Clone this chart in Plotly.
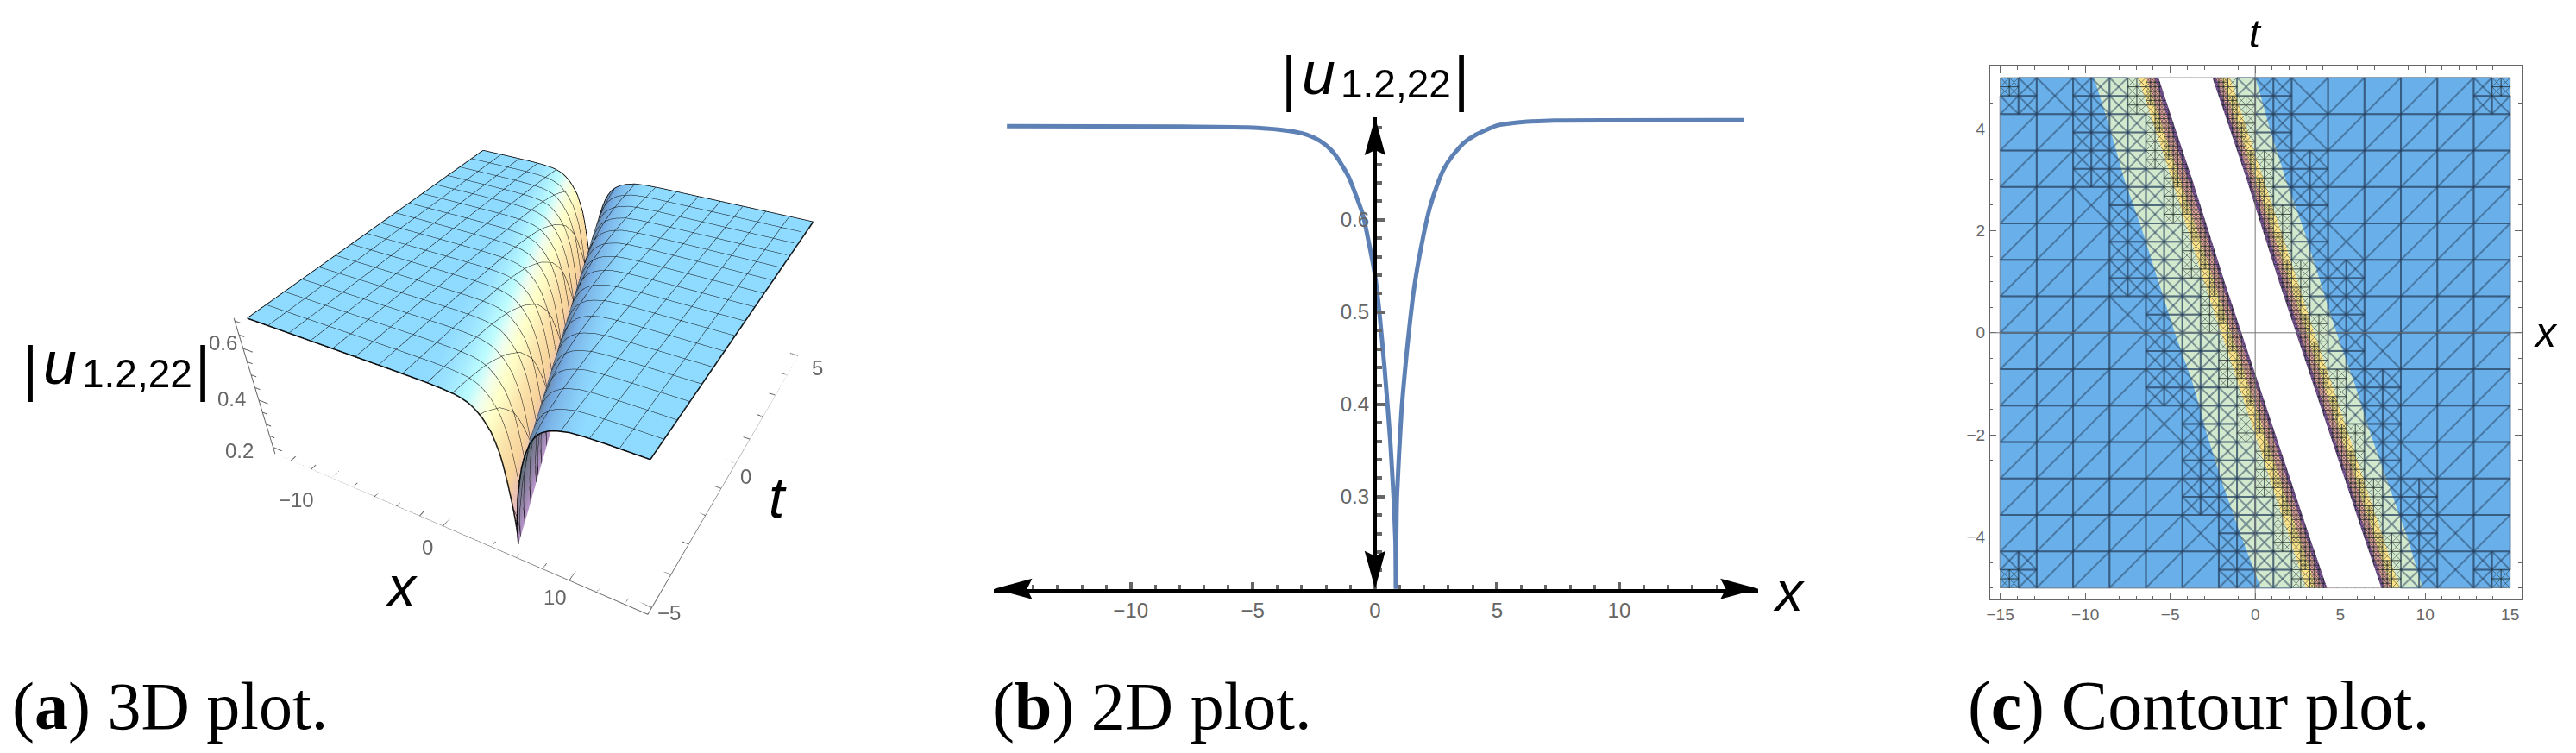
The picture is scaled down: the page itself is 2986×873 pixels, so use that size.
import numpy as np
import plotly.graph_objects as go

W, H = 2986, 873

# panel (b): curve
profile_x = [-15.07, -7.9, -5.2, -3.87, -2.97, -2.5, -2.07, -1.85, -1.62, -1.35, -1.06, -0.8, -0.5, -0.25, 0.0,
             0.18, 0.4, 0.63, 0.76, 0.84, 0.855, 0.87, 0.9, 1.08, 1.34, 1.552, 1.752, 2.0, 2.245, 2.53, 2.82, 3.16,
             3.63, 4.16, 4.98, 5.93, 7.34, 15.1]
profile_u = [0.7015, 0.701, 0.700, 0.6975, 0.6936, 0.689, 0.682, 0.677, 0.670, 0.659, 0.6456, 0.628, 0.606, 0.575, 0.540,
             0.50, 0.437, 0.359, 0.30, 0.25, 0.20, 0.25, 0.30, 0.39, 0.4666, 0.5165, 0.5508, 0.585, 0.613, 0.6364, 0.655, 0.669,
             0.683, 0.6925, 0.702, 0.7056, 0.7075, 0.708]
# colour position along the same curve
profile_shade = [0, 0, 0, 0.05, 0.12, 0.17, 0.21, 0.24, 0.27, 0.31, 0.34, 0.37, 0.40, 0.44, 0.48,
                 0.51, 0.54, 0.6, 0.64, 0.68, 0.72, 0.74, 0.76, 0.78, 0.8, 0.81, 0.82, 0.83, 0.84, 0.86, 0.88, 0.9,
                 0.93, 0.95, 0.98, 1, 1, 1]

# panel (a): position of the trough against t
ridge_t = [-5, -4, -3, -2, -1, 0, 1, 2, 3, 4, 5]
ridge_x = [5.83, 4.85, 3.85, 2.85, 1.85, 0.85, -0.15, -1.15, -2.15, -3.15, -4.1]

# panel (c): band edges, x at each t
edge_t = [5, 4, 3, 2, 1, 0, -1, -2, -3, -4, -5]
left_green = [-9.49, -8.54, -7.7, -6.64, -5.69, -4.73, -3.66, -2.83, -1.88, -0.81, 0.33]
left_yellow = [-6.88, -5.9, -4.9, -3.95, -3.0, -2.0, -1.0, 0.0, 1.0, 2.0, 3.0]
left_pink = [-6.4, -5.4, -4.4, -3.4, -2.4, -1.4, -0.4, 0.6, 1.6, 2.6, 3.6]
left_purple = [-5.92, -4.95, -3.95, -2.95, -2.0, -1.0, 0.0, 1.0, 2.0, 3.0, 3.95]
left_white = [-5.69, -4.7, -3.7, -2.75, -1.8, -0.81, 0.2, 1.2, 2.2, 3.2, 4.23]
right_white = [-2.52, -1.5, -0.5, 0.45, 1.4, 2.4, 3.4, 4.4, 5.4, 6.4, 7.42]
right_purple = [-2.3, -1.3, -0.3, 0.7, 1.65, 2.64, 3.6, 4.6, 5.6, 6.6, 7.6]
right_pink = [-2.0, -1.0, 0.0, 1.0, 2.0, 3.0, 4.0, 5.0, 6.0, 7.0, 8.0]
right_yellow = [-1.48, -0.5, 0.5, 1.5, 2.5, 3.47, 4.5, 5.5, 6.5, 7.5, 8.5]
right_green = [0.02, 0.86, 1.8, 2.88, 3.83, 4.78, 5.85, 6.8, 7.87, 8.95, 9.85]

band_colors = ["#d3e9cd", "#fbe38a", "#e8a8a0", "#8d5ea8", "#ffffff"]
blue = "#69b0ea"
grey = "#666666"


def px_x(x):
    return x / W


def px_y(y):
    return 1 - y / H


fig = go.Figure()

# panel (a)
off = np.array(profile_x) - 0.855
off3d = np.concatenate([[-26.0], off, [26.0]])
z_row = np.array([profile_u[0]] + profile_u + [profile_u[-1]])
s_row = np.array([profile_shade[0]] + profile_shade + [profile_shade[-1]])
X3 = np.array([np.clip(c + off3d, -15, 15) for c in ridge_x])
T3 = np.array([[t] * off3d.size for t in ridge_t], dtype=float)
Z3 = np.array([z_row for _ in ridge_t])
S3 = np.array([s_row for _ in ridge_t])
fig.add_trace(go.Surface(
    x=X3, y=T3, z=Z3, surfacecolor=S3, cmin=0, cmax=1, showscale=False, hoverinfo="skip",
    colorscale=[[0, "#8fdaff"], [0.2, "#bcfcff"], [0.3, "#f0fff0"], [0.38, "#ffffc8"], [0.55, "#f8d49c"], [0.7, "#d0a0e0"],
                [0.8, "#64707c"], [0.9, "#74a8e0"], [1, "#8fdaff"]],
    lighting=dict(ambient=1, diffuse=0, specular=0, fresnel=0, roughness=1),
    contours=dict(
        x=dict(show=True, start=-15, end=15, size=1.875, color="#111111", width=4, highlight=False),
        y=dict(show=True, start=-5, end=5, size=0.625, color="#111111", width=4, highlight=False),
        z=dict(highlight=False),
    ),
    scene="scene",
))
for xs, ts, zs in [(X3[0], T3[0], Z3[0]), (X3[-1], T3[-1], Z3[-1]),
                   (X3[:, 0], T3[:, 0], Z3[:, 0]), (X3[:, -1], T3[:, -1], Z3[:, -1])]:
    fig.add_trace(go.Scatter3d(x=xs, y=ts, z=zs, mode="lines", line=dict(color="black", width=3),
                               hoverinfo="skip", showlegend=False, scene="scene"))

# box axes of (a) with inward ticks
XR, TR, ZL, ZH = 15.6, 5.2, 0.17, 0.71
ax_x, ax_t, ax_z = [-XR, XR, XR, None, -XR, -XR, None], [-TR, -TR, TR, None, -TR, -TR, None], [ZL, ZL, ZL, None, ZL, ZH, None]
for v_ in range(-14, 16, 2):
    ln = 0.32 if v_ % 10 == 0 else 0.18
    ax_x += [v_, v_, None]
    ax_t += [-TR, -TR + ln, None]
    ax_z += [ZL, ZL, None]
for v_ in range(-5, 6):
    ln = 0.9 if v_ % 5 == 0 else 0.5
    ax_x += [XR, XR - ln, None]
    ax_t += [v_, v_, None]
    ax_z += [ZL, ZL, None]
for v_ in [0.2, 0.25, 0.3, 0.35, 0.4, 0.45, 0.5, 0.55, 0.6, 0.65, 0.7]:
    ln = 0.9 if v_ in (0.2, 0.4, 0.6) else 0.5
    ax_x += [-XR, -XR + ln, None]
    ax_t += [-TR, -TR, None]
    ax_z += [v_, v_, None]
fig.add_trace(go.Scatter3d(x=ax_x, y=ax_t, z=ax_z, mode="lines", line=dict(color=grey, width=2),
                           hoverinfo="skip", showlegend=False, scene="scene"))

# panel (b)
fig.add_trace(go.Scatter(x=profile_x, y=profile_u, mode="lines", line=dict(color="#5e81b5", width=5, shape="spline", smoothing=0.5),
                         xaxis="x", yaxis="y", showlegend=False, hoverinfo="skip"))

# panel (c)
fig.add_trace(go.Scatter(x=[-15, 15, 15, -15], y=[-5, -5, 5, 5], fill="toself", fillcolor=blue, mode="none",
                         xaxis="x2", yaxis="y2", showlegend=False, hoverinfo="skip"))
pairs = [(left_green, right_green), (left_yellow, right_yellow), (left_pink, right_pink),
         (left_purple, right_purple), (left_white, right_white)]


def band(lft, rgt, col):
    fig.add_trace(go.Scatter(x=lft + rgt[::-1], y=edge_t + edge_t[::-1], fill="toself", fillcolor=col, mode="none",
                             xaxis="x2", yaxis="y2", showlegend=False, hoverinfo="skip"))


for (lft, rgt), col in list(zip(pairs, band_colors))[:4]:
    band(lft, rgt, col)

t_asc = edge_t[::-1]


def edge_at(edge, t):
    return np.interp(t, t_asc, edge[::-1])


def target_level(x0, x1, t0, t1):
    lev = 0
    for x in (x0, x1, (x0 + x1) / 2):
        for t in (t0, t1, (t0 + t1) / 2):
            lg, rg = edge_at(left_green, t), edge_at(right_green, t)
            ly, ry = edge_at(left_yellow, t), edge_at(right_yellow, t)
            lp, rp = edge_at(left_pink, t), edge_at(right_pink, t)
            lw, rw = edge_at(left_white, t), edge_at(right_white, t)
            if lp <= x <= lw or rw <= x <= rp:
                lev = max(lev, 3)
            elif ly <= x <= ry:
                lev = max(lev, 2)
            elif lg - 0.4 <= x <= rg + 0.4:
                lev = max(lev, 1)
    return lev


seg_x = {0: [], 1: []}
seg_t = {0: [], 1: []}


def seg(k, a, b, c, d):
    seg_x[k].extend([a, c, None])
    seg_t[k].extend([b, d, None])


def cell(x0, x1, t0, t1, depth):
    corner = x0 in (-15.0, 15.0) or x1 in (-15.0, 15.0)
    corner = corner and (t0 in (-5.0, 5.0) or t1 in (-5.0, 5.0))
    want = target_level(x0, x1, t0, t1)
    if corner:
        want = max(want, 2)
    if depth < want:
        xm, tm = (x0 + x1) / 2, (t0 + t1) / 2
        for a, b in ((x0, xm), (xm, x1)):
            for c, d in ((t0, tm), (tm, t1)):
                cell(a, b, c, d, depth + 1)
        return
    k = 1 if depth >= 2 else 0
    seg(k, x0, t0, x1, t0)
    seg(k, x0, t1, x1, t1)
    seg(k, x0, t0, x0, t1)
    seg(k, x1, t0, x1, t1)
    seg(k, x0, t0, x1, t1)
    t_mid = (t0 + t1) / 2
    near = min(abs((x0 + x1) / 2 - edge_at(left_green, t_mid)), abs((x0 + x1) / 2 - edge_at(right_green, t_mid)))
    if depth > 0 or near < 3.0:
        seg(k, x0, t1, x1, t0)


mesh_x = np.linspace(-15, 15, 15)
mesh_t = np.linspace(-5, 5, 15)
for i in range(14):
    for j in range(14):
        cell(float(mesh_x[i]), float(mesh_x[i + 1]), float(mesh_t[j]), float(mesh_t[j + 1]), 0)
fig.add_trace(go.Scatter(x=seg_x[0], y=seg_t[0], mode="lines", line=dict(color="rgba(40,65,95,0.5)", width=2),
                         xaxis="x2", yaxis="y2", showlegend=False, hoverinfo="skip"))
fig.add_trace(go.Scatter(x=seg_x[1], y=seg_t[1], mode="lines", line=dict(color="rgba(30,40,40,0.5)", width=1),
                         xaxis="x2", yaxis="y2", showlegend=False, hoverinfo="skip"))
band(left_white, right_white, band_colors[4])

# arrowheads on the axes of (b)
AX, AY = 1592, 682.7
shapes = []


def arrow(x, y, dx, dy):
    nx, ny = -dy, dx
    pts = [(x, y), (x - dx * 44 + nx * 12, y - dy * 44 + ny * 12), (x - dx * 38, y - dy * 38),
           (x - dx * 44 - nx * 12, y - dy * 44 - ny * 12)]
    path = "M " + " L ".join("%.4f %.4f" % (px_x(a), px_y(b)) for a, b in pts) + " Z"
    shapes.append(dict(type="path", path=path, xref="paper", yref="paper", fillcolor="black",
                       line=dict(width=0), layer="above"))


arrow(1150, AY, -1, 0)
arrow(2037, AY, 1, 0)
arrow(AX, 136, 0, -1)
arrow(AX, AY, 0, 1)

# zero lines of (c) sit above the fills
shapes.append(dict(type="line", xref="x2", yref="paper", x0=0, x1=0, y0=px_y(694.3), y1=px_y(77.3),
                   line=dict(color="#777777", width=1), layer="above"))
shapes.append(dict(type="line", xref="paper", yref="y2", x0=px_x(2305.7), x1=px_x(2922.8), y0=0, y1=0,
                   line=dict(color="#777777", width=1), layer="above"))

annotations = []


def text(x, y, s, size, family="Liberation Sans", color="black", anchor="center"):
    annotations.append(dict(x=px_x(x), y=px_y(y), xref="paper", yref="paper", text=s, showarrow=False,
                            xanchor=anchor, yanchor="middle", font=dict(family=family, size=size, color=color)))


def u_label(x0, y0):
    # x0 is the left bar, y0 the middle of the bars
    text(x0, y0, "|", 70, anchor="center")
    text(x0 + 35, y0 - 6, "<i>u</i>", 70, anchor="center")
    text(x0 + 58, y0 + 6, "1.2,22", 46, anchor="left")
    text(x0 + 200, y0, "|", 70, anchor="center")


u_label(31, 427)
u_label(1492, 91)
text(462, 680, "<i>x</i>", 66)
text(899, 577, "<i>t</i>", 66)
text(2072, 686, "<i>x</i>", 64)
text(2951, 385, "<i>x</i>", 48)
text(2614, 39, "<i>t</i>", 46)

# z tick labels of (a)
text(255, 398, "0.6", 24, color=grey)
text(265, 462, "0.4", 24, color=grey)
text(274, 522, "0.2", 24, color=grey)

serif = "Liberation Serif"
text(8, 818, "(<b>a</b>) 3D plot.", 78, serif, anchor="left")
text(1146, 818, "(<b>b</b>) 2D plot.", 78, serif, anchor="left")
text(2278, 818, "(<b>c</b>) Contour plot.", 80, serif, anchor="left")

tick_font = dict(family="Liberation Sans", size=24, color=grey)
tick_font_c = dict(family="Liberation Sans", size=19, color=grey)

scene_axis = dict(showbackground=False, showgrid=False, zeroline=False, showline=False, ticks="",
                  showticklabels=False, showspikes=False, title=dict(text=""))


def scene_label(x, t, z, s, dx, dy):
    return dict(x=x, y=t, z=z, text=s, showarrow=False, xshift=dx, yshift=-dy, font=tick_font)


scene_notes = [scene_label(-10, -TR, ZL, "−10", -41, 25), scene_label(0, -TR, ZL, "0", -18, 25),
               scene_label(10, -TR, ZL, "10", -16, 19),
               scene_label(XR, -5, ZL, "−5", 20, 6), scene_label(XR, 0, ZL, "0", 12, 16),
               scene_label(XR, 5, ZL, "5", 22, 14)]

CX = 635.4  # screen column of the scene centre
fig.update_layout(
    width=W, height=H, autosize=False, margin=dict(l=0, r=0, t=0, b=0), showlegend=False,
    paper_bgcolor="white", plot_bgcolor="rgba(0,0,0,0)", shapes=shapes, annotations=annotations,
    scene=dict(
        domain=dict(x=[(CX - 500) / W, (CX + 500) / W], y=[0, 1]),
        xaxis=dict(scene_axis, range=[-XR, XR]),
        yaxis=dict(scene_axis, range=[-TR, TR]),
        zaxis=dict(scene_axis, range=[ZL, ZH]),
        aspectmode="manual", aspectratio=dict(x=1, y=0.9811, z=0.4045),
        camera=dict(eye=dict(x=0.9308, y=-1.5413, z=1.3089),
                    up=dict(x=-0.2866, y=0.5538, z=0.7818),
                    center=dict(x=0, y=0, z=-0.1241)),
        annotations=scene_notes,
    ),
    xaxis=dict(domain=[px_x(1150), px_x(2037)], range=[-15.59, 15.70], anchor="y", showgrid=False, zeroline=False,
               showline=True, linecolor="black", linewidth=4, ticks="inside", ticklen=8, tickwidth=4, tickcolor=grey,
               tickvals=[-10, -5, 0, 5, 10], tickfont=tick_font,
               minor=dict(ticks="inside", dtick=1, ticklen=5, tickwidth=3, tickcolor=grey)),
    yaxis=dict(domain=[px_y(AY), px_y(136)], range=[0.2, 0.711], anchor="free", position=px_x(AX), showgrid=False,
               zeroline=False, showline=True, linecolor="black", linewidth=4, ticks="inside", ticklen=10, tickwidth=4,
               tickcolor=grey, tickvals=[0.3, 0.4, 0.5, 0.6], tickformat=".1f", tickfont=tick_font,
               minor=dict(ticks="inside", tick0=0.2, dtick=0.02, ticklen=6, tickwidth=4, tickcolor=grey)),
    xaxis2=dict(domain=[px_x(2305.7), px_x(2922.8)], range=[-15.61, 15.67], anchor="y2", showgrid=False, zeroline=False,
                showline=True, mirror="ticks", linecolor=grey, linewidth=1.5, ticks="inside", ticklen=8, tickwidth=1,
                tickcolor=grey, tickvals=[-15, -10, -5, 0, 5, 10, 15], tickfont=tick_font_c,
                minor=dict(ticks="inside", dtick=1, ticklen=4, tickwidth=1, tickcolor=grey)),
    yaxis2=dict(domain=[px_y(694.3), px_y(77.3)], range=[-5.215, 5.215], anchor="x2", showgrid=False, zeroline=False,
                showline=True, mirror="ticks", linecolor=grey, linewidth=1.5, ticks="inside", ticklen=8, tickwidth=1,
                tickcolor=grey, tickvals=[-4, -2, 0, 2, 4], tickfont=tick_font_c,
                minor=dict(ticks="inside", dtick=0.5, ticklen=4, tickwidth=1, tickcolor=grey)),
)

fig.write_html("out.html", config={"displayModeBar": False}, post_script="document.body.style.margin='0';")
